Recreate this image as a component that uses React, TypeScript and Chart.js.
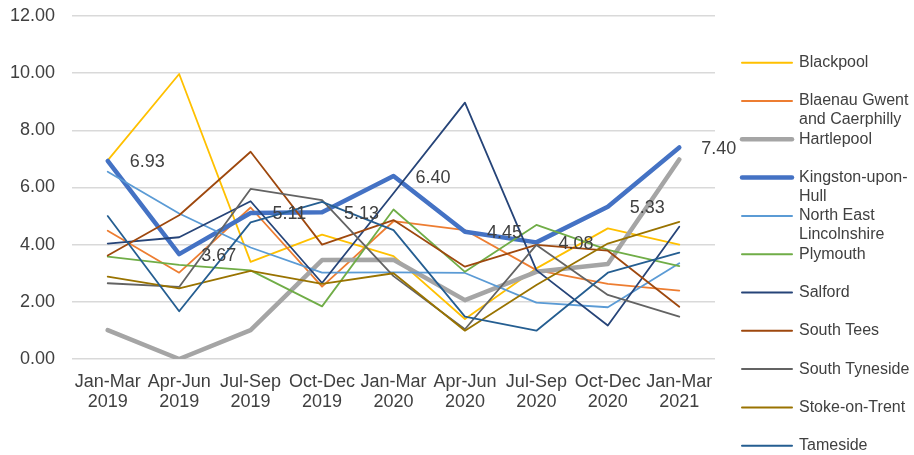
import React, { useEffect, useRef } from "react";
import { Chart, registerables } from "chart.js";

Chart.register(...registerables);

const categories: string[][] = [
  ["Jan-Mar", "2019"],
  ["Apr-Jun", "2019"],
  ["Jul-Sep", "2019"],
  ["Oct-Dec", "2019"],
  ["Jan-Mar", "2020"],
  ["Apr-Jun", "2020"],
  ["Jul-Sep", "2020"],
  ["Oct-Dec", "2020"],
  ["Jan-Mar", "2021"],
];

const blackpool = [6.95, 9.97, 3.4, 4.35, 3.6, 1.4, 3.17, 4.57, 4.0];
const blaenauGwent = [4.49, 3.02, 5.3, 2.53, 4.82, 4.51, 3.11, 2.63, 2.39];
const hartlepool = [1.01, 0.0, 1.01, 3.46, 3.47, 2.06, 3.05, 3.32, 6.98];
const kingstonHull = [6.93, 3.67, 5.11, 5.13, 6.4, 4.45, 4.08, 5.33, 7.4];
const neLincolnshire = [6.55, 5.09, 3.9, 3.02, 3.03, 3.01, 1.97, 1.81, 3.35];
const plymouth = [3.58, 3.29, 3.1, 1.84, 5.23, 3.05, 4.69, 3.82, 3.25];
const salford = [4.04, 4.26, 5.52, 2.66, 5.8, 8.97, 3.11, 1.17, 4.63];
const southTees = [3.62, 5.03, 7.25, 4.0, 4.86, 3.23, 3.99, 3.79, 1.83];
const southTyneside = [2.65, 2.52, 5.95, 5.56, 2.9, 1.04, 3.99, 2.24, 1.48];
const stokeOnTrent = [2.88, 2.47, 3.08, 2.63, 3.0, 0.99, 2.59, 4.04, 4.8];
const tameside = [5.0, 1.67, 4.78, 5.5, 4.51, 1.48, 0.99, 3.02, 3.72];

const seriesNames = [
  "Blackpool",
  "Blaenau Gwent\nand Caerphilly",
  "Hartlepool",
  "Kingston-upon-\nHull",
  "North East\nLincolnshire",
  "Plymouth",
  "Salford",
  "South Tees",
  "South Tyneside",
  "Stoke-on-Trent",
  "Tameside",
];
const seriesValues = [
  blackpool,
  blaenauGwent,
  hartlepool,
  kingstonHull,
  neLincolnshire,
  plymouth,
  salford,
  southTees,
  southTyneside,
  stokeOnTrent,
  tameside,
];
const seriesColors = [
  "#FFC000",
  "#ED7D31",
  "#A5A5A5",
  "#4472C4",
  "#5B9BD5",
  "#70AD47",
  "#264478",
  "#9E480E",
  "#636363",
  "#997300",
  "#255E91",
];
const thickSeries = [2, 3];
const labelledSeries = 3;

const yTicks = [0, 2, 4, 6, 8, 10, 12];

const FONT = "'Liberation Sans', Arial, sans-serif";
const TEXT = "#404040";

const legendPlugin = {
  id: "customLegend",
  afterDraw(chart: any) {
    const ctx = chart.ctx;
    ctx.save();
    ctx.font = `16px ${FONT}`;
    ctx.fillStyle = TEXT;
    ctx.textAlign = "left";
    ctx.textBaseline = "middle";
    seriesNames.forEach((name, i) => {
      const y = 62.7 + i * 38.3;
      ctx.beginPath();
      ctx.strokeStyle = seriesColors[i];
      ctx.lineWidth = thickSeries.includes(i) ? 4.5 : 2;
      ctx.lineCap = "round";
      ctx.moveTo(742, y);
      ctx.lineTo(792, y);
      ctx.stroke();
      name.split("\n").forEach((line, k) => {
        ctx.fillText(line, 799, y + k * 18.6);
      });
    });
    ctx.restore();
  },
};

const dataLabelPlugin = {
  id: "hullLabels",
  afterDatasetsDraw(chart: any) {
    const ctx = chart.ctx;
    const meta = chart.getDatasetMeta(labelledSeries);
    ctx.save();
    ctx.font = `18px ${FONT}`;
    ctx.fillStyle = TEXT;
    ctx.textAlign = "left";
    ctx.textBaseline = "middle";
    meta.data.forEach((pt: any, i: number) => {
      ctx.fillText(seriesValues[labelledSeries][i].toFixed(2), pt.x + 22, pt.y + 1.5);
    });
    ctx.restore();
  },
};

export default function App() {
  const ref = useRef<HTMLCanvasElement>(null);
  useEffect(() => {
    if (!ref.current) return;
    const chart = new Chart(ref.current, {
      type: "line",
      data: {
        labels: categories,
        datasets: seriesValues.map((vals, i) => ({
          label: seriesNames[i].replace("\n", " "),
          data: vals,
          borderColor: seriesColors[i],
          backgroundColor: seriesColors[i],
          borderWidth: thickSeries.includes(i) ? 4.5 : 1.8,
          pointRadius: 0,
          pointHoverRadius: 0,
          tension: 0,
          fill: false,
          borderJoinStyle: "round" as const,
          borderCapStyle: "round" as const,
          order: 20 - i,
        })),
      },
      options: {
        animation: false,
        responsive: true,
        maintainAspectRatio: false,
        events: [],
        layout: { padding: { left: 0, right: 199, top: 16, bottom: 0 } },
        plugins: {
          legend: { display: false },
          tooltip: { enabled: false },
          title: { display: false },
        },
        scales: {
          x: {
            offset: true,
            grid: { display: false, drawTicks: false },
            border: { display: false },
            ticks: {
              autoSkip: false,
              maxRotation: 0,
              minRotation: 0,
              padding: 13,
              color: TEXT,
              font: { family: FONT, size: 18, lineHeight: 1.11 },
            },
            afterFit(scale: any) {
              scale.height = 96;
              scale.paddingLeft = 0;
              scale.paddingRight = 0;
            },
          },
          y: {
            min: 0,
            max: 12,
            afterBuildTicks(scale: any) {
              scale.ticks = yTicks.map((v) => ({ value: v }));
            },
            grid: { color: "#D9D9D9", lineWidth: 1.5, drawTicks: false },
            border: { display: false },
            ticks: {
              padding: 17,
              color: TEXT,
              font: { family: FONT, size: 18 },
              callback: (v: any) => Number(v).toFixed(2),
            },
            afterFit(scale: any) {
              scale.width = 72;
              scale.paddingTop = 0;
              scale.paddingBottom = 0;
            },
          },
        },
      },
      plugins: [dataLabelPlugin, legendPlugin],
    });
    return () => chart.destroy();
  }, []);
  return (
    <div style={{ position: "fixed", left: 0, top: 0, width: 914, height: 455, background: "#fff" }}>
      <canvas ref={ref} />
    </div>
  );
}
